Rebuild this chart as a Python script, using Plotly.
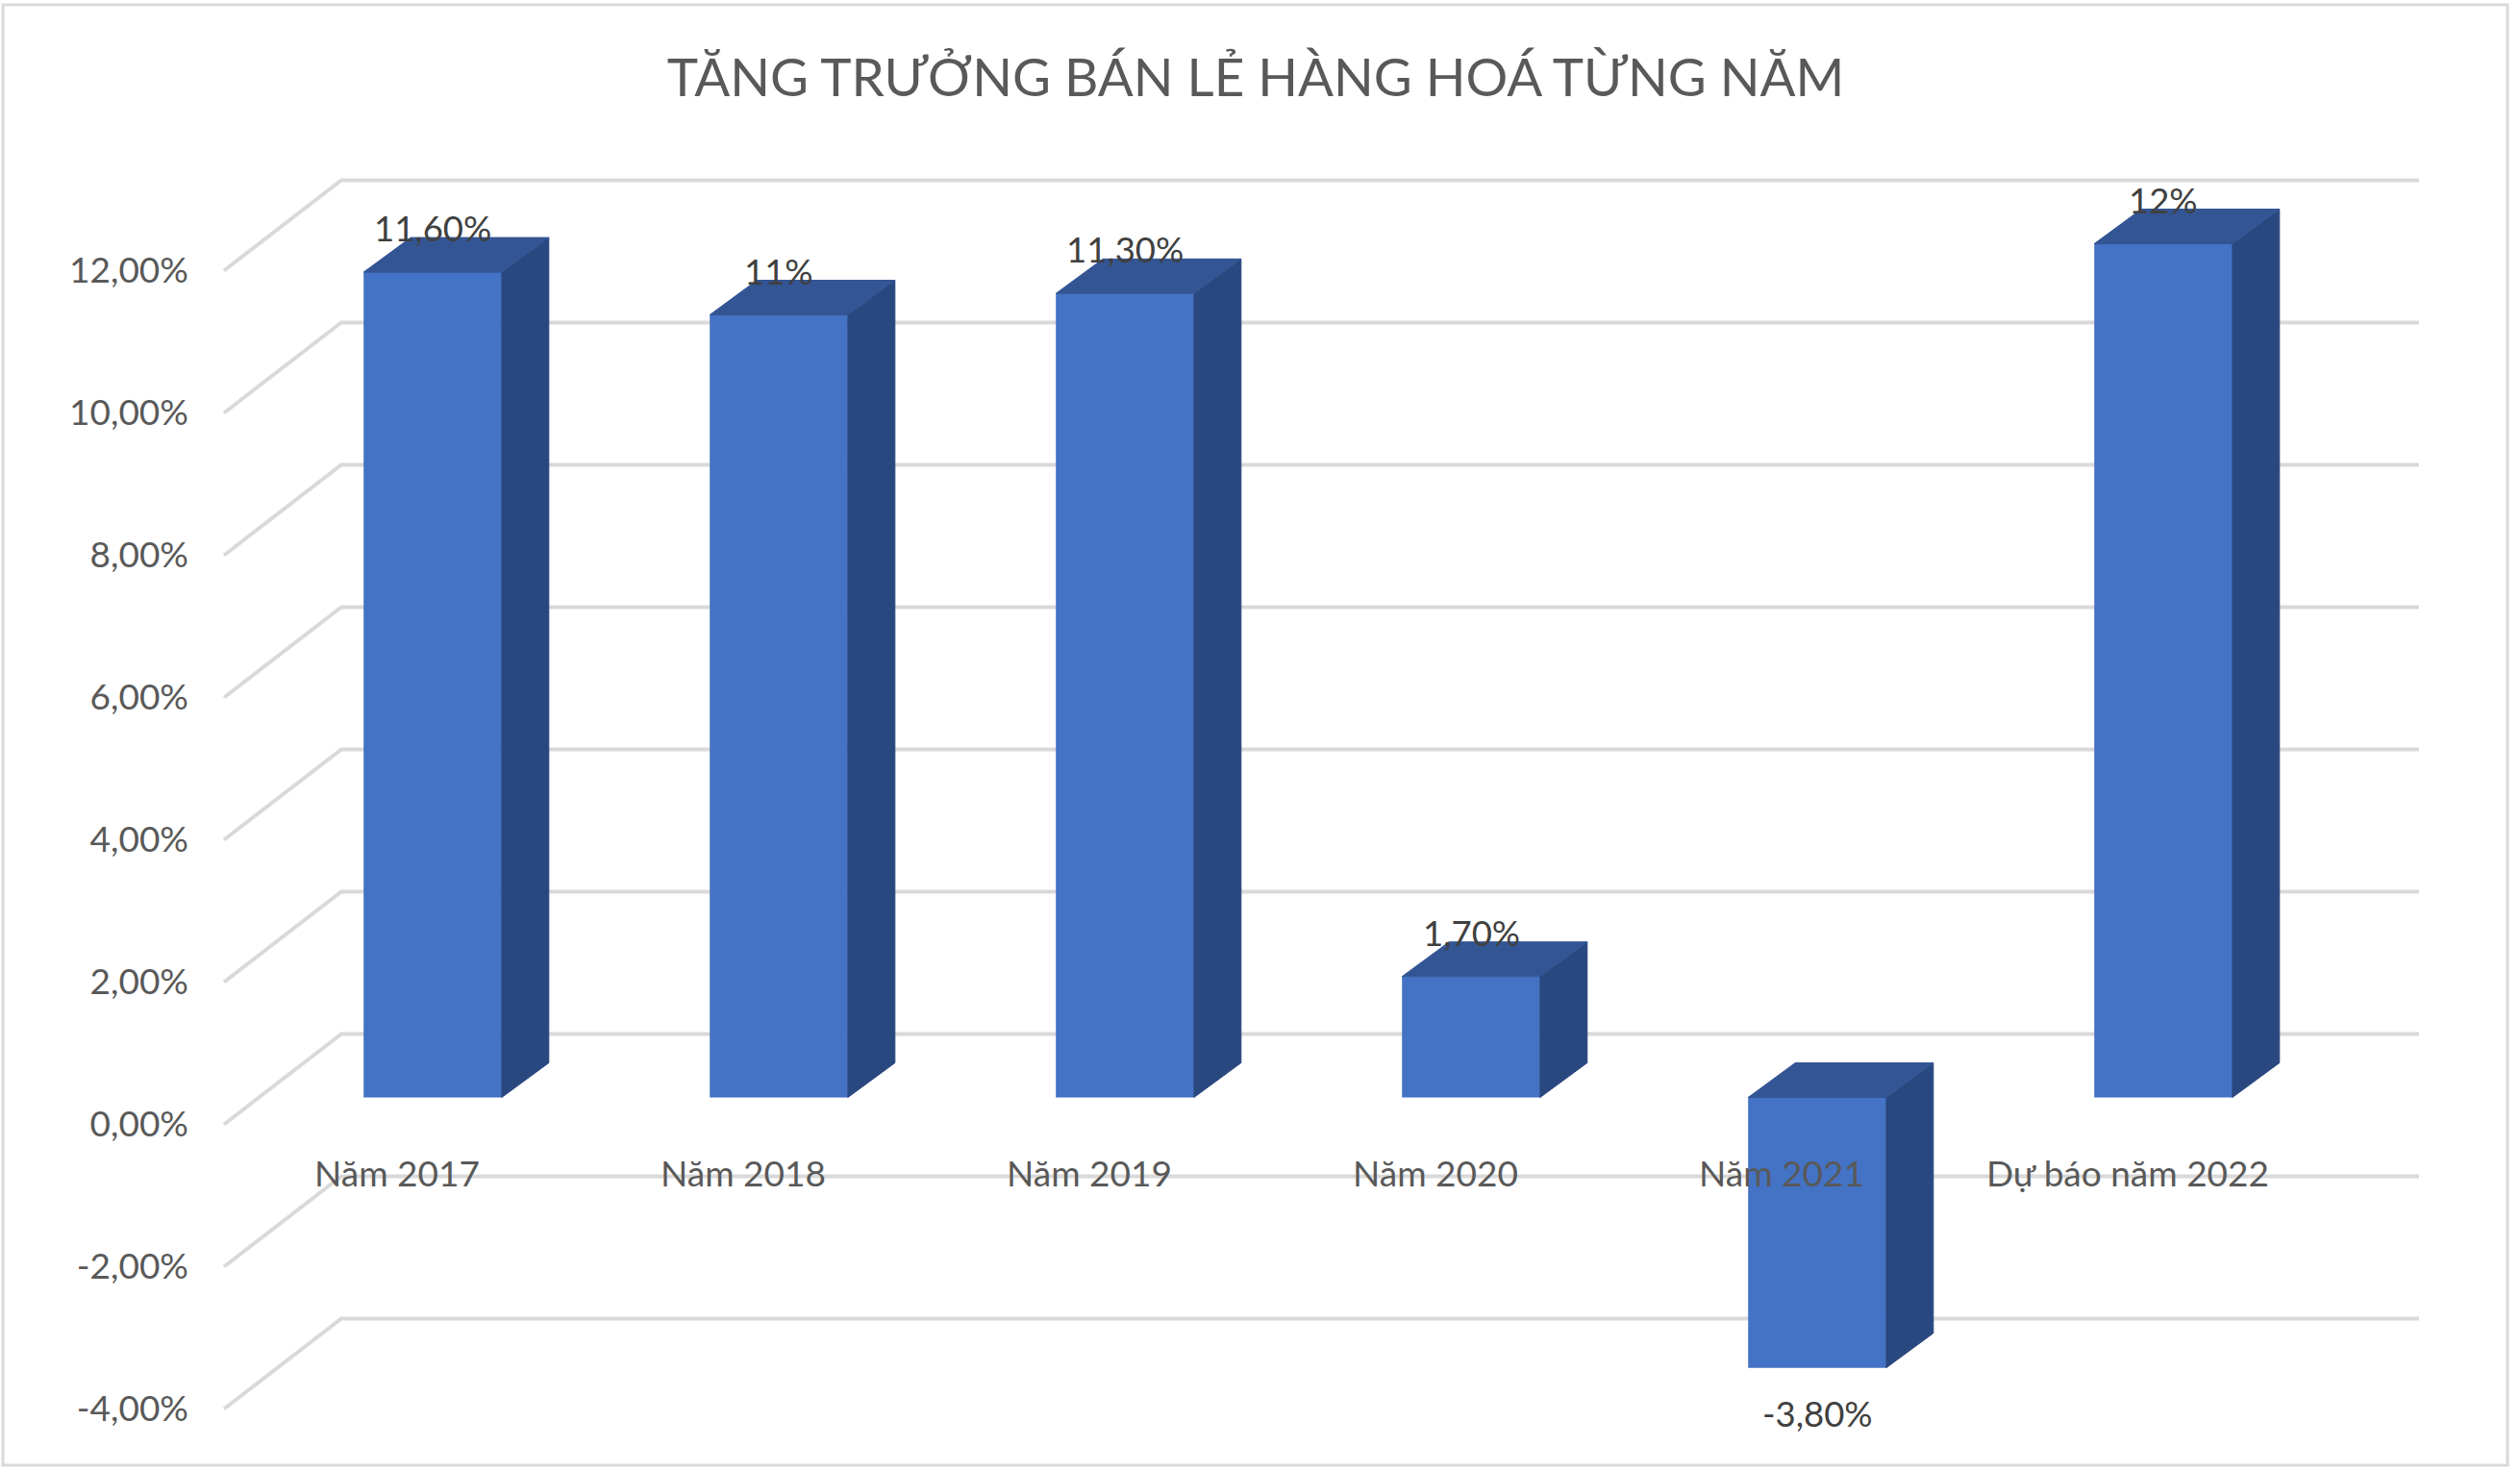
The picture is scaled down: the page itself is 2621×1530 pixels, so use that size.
import plotly.graph_objects as go

categories = ["Năm 2017", "Năm 2018", "Năm 2019", "Năm 2020", "Năm 2021", "Dự báo năm 2022"]
values = [11.6, 11.0, 11.3, 1.7, -3.8, 12.0]
value_labels = ["11,60%", "11%", "11,30%", "1,70%", "-3,80%", "12%"]
y_ticks = [-4, -2, 0, 2, 4, 6, 8, 10, 12]
y_tick_labels = ["-4,00%", "-2,00%", "0,00%", "2,00%", "4,00%", "6,00%", "8,00%", "10,00%", "12,00%"]

W, H = 2621, 1530
FONT = "Lato"

# fake 3D: everything below is pixel geometry of the excel-style perspective
STEP_X = 360.0       # px between bars
FIRST_BAR_X = 450.0  # px, centre of first bar
PX_PER_UNIT = 74.0   # px per 1%
BAR_ZERO_Y = 1141.5  # baseline of the bars
WALL_ZERO_Y = 1169.5 # where the 0,00% tick sits
BAR_W = 143.6 / STEP_X
DEPTH_X = 49.0 / STEP_X
DEPTH_Y = 36.0 / PX_PER_UNIT
GRID_FRONT_X = (233 - FIRST_BAR_X) / STEP_X
GRID_BACK_X = (355 - FIRST_BAR_X) / STEP_X
GRID_END_X = (2516 - FIRST_BAR_X) / STEP_X
GRID_RISE = 94.0 / PX_PER_UNIT

x_idx = list(range(len(categories)))
x_range = [-FIRST_BAR_X / STEP_X, (W - FIRST_BAR_X) / STEP_X]
bar_range = [-(H - BAR_ZERO_Y) / PX_PER_UNIT, BAR_ZERO_Y / PX_PER_UNIT]
wall_range = [-(H - WALL_ZERO_Y) / PX_PER_UNIT, WALL_ZERO_Y / PX_PER_UNIT]

# grid lines: short diagonal on the side wall, then along the back wall
gx, gy = [], []
for t in y_ticks:
    gx += [GRID_FRONT_X, GRID_BACK_X, GRID_END_X, None]
    gy += [t, t + GRID_RISE, t + GRID_RISE, None]

# side and top faces of the bars
sx, sy, tx, ty = [], [], [], []
for i, v in zip(x_idx, values):
    hi, lo = max(v, 0), min(v, 0)
    r = i + BAR_W / 2
    l = i - BAR_W / 2
    sx += [r, r + DEPTH_X, r + DEPTH_X, r, r, None]
    sy += [lo, lo + DEPTH_Y, hi + DEPTH_Y, hi, lo, None]
    tx += [l, l + DEPTH_X, r + DEPTH_X, r, l, None]
    ty += [hi, hi + DEPTH_Y, hi + DEPTH_Y, hi, hi, None]

fig = go.Figure()

fig.add_trace(go.Scatter(
    x=gx, y=gy, mode="lines", xaxis="x", yaxis="y",
    line=dict(color="#D9D9D9", width=4), hoverinfo="skip", showlegend=False,
))
fig.add_trace(go.Bar(
    x=x_idx, y=values, width=BAR_W, xaxis="x", yaxis="y2",
    marker=dict(color="#4472C4", line=dict(width=0)), showlegend=False,
))
fig.add_trace(go.Scatter(
    x=sx, y=sy, mode="lines", fill="toself", fillcolor="#2A4880", xaxis="x", yaxis="y2",
    line=dict(color="#2A4880", width=1), hoverinfo="skip", showlegend=False,
))
fig.add_trace(go.Scatter(
    x=tx, y=ty, mode="lines", fill="toself", fillcolor="#335593", xaxis="x", yaxis="y2",
    line=dict(color="#335593", width=1), hoverinfo="skip", showlegend=False,
))
# only there so the category axis gets drawn
fig.add_trace(go.Scatter(
    x=x_idx, y=values, mode="markers", marker=dict(opacity=0), xaxis="x2", yaxis="y2",
    hoverinfo="skip", showlegend=False,
))

annotations = []
for i, v, txt in zip(x_idx, values, value_labels):
    annotations.append(dict(
        x=i, y=v, xref="x", yref="y2", text=txt, showarrow=False,
        yshift=46 if v >= 0 else -47, xanchor="center", yanchor="middle",
        font=dict(family=FONT, size=36.5, color="#404040"),
    ))

fig.update_layout(
    width=W, height=H, autosize=False,
    margin=dict(l=0, r=0, t=0, b=0),
    paper_bgcolor="white", plot_bgcolor="white",
    title=dict(
        text="TĂNG TRƯỞNG BÁN LẺ HÀNG HOÁ TỪNG NĂM",
        x=1306 / W, xanchor="center", y=1 - 81 / H, yanchor="middle",
        font=dict(family=FONT, size=54.7, color="#595959"),
    ),
    xaxis=dict(range=x_range, domain=[0, 1], visible=False, fixedrange=True),
    xaxis2=dict(
        range=[x_range[0] + 37 / STEP_X, x_range[1] + 37 / STEP_X], overlaying="x",
        anchor="free", position=1 - 1196 / H,
        tickmode="array", tickvals=x_idx, ticktext=categories,
        showgrid=False, zeroline=False, showline=False, ticks="",
        tickfont=dict(family=FONT, size=37, color="#595959"),
    ),
    yaxis=dict(
        range=wall_range, domain=[0, 1], anchor="free", position=196 / W,
        tickmode="array", tickvals=y_ticks, ticktext=y_tick_labels,
        showgrid=False, zeroline=False, showline=False, ticks="",
        tickfont=dict(family=FONT, size=37, color="#595959"),
    ),
    yaxis2=dict(range=bar_range, overlaying="y", visible=False),
    annotations=annotations,
    shapes=[dict(
        type="rect", xref="paper", yref="paper",
        x0=3 / W, x1=2608 / W, y0=1 - 1524 / H, y1=1 - 5 / H,
        line=dict(color="#D9D9D9", width=3), layer="below",
    )],
)

# page has an 8px body margin by default
fig.write_html("out.html", post_script="document.body.style.margin='0';", config=dict(displayModeBar=False))
